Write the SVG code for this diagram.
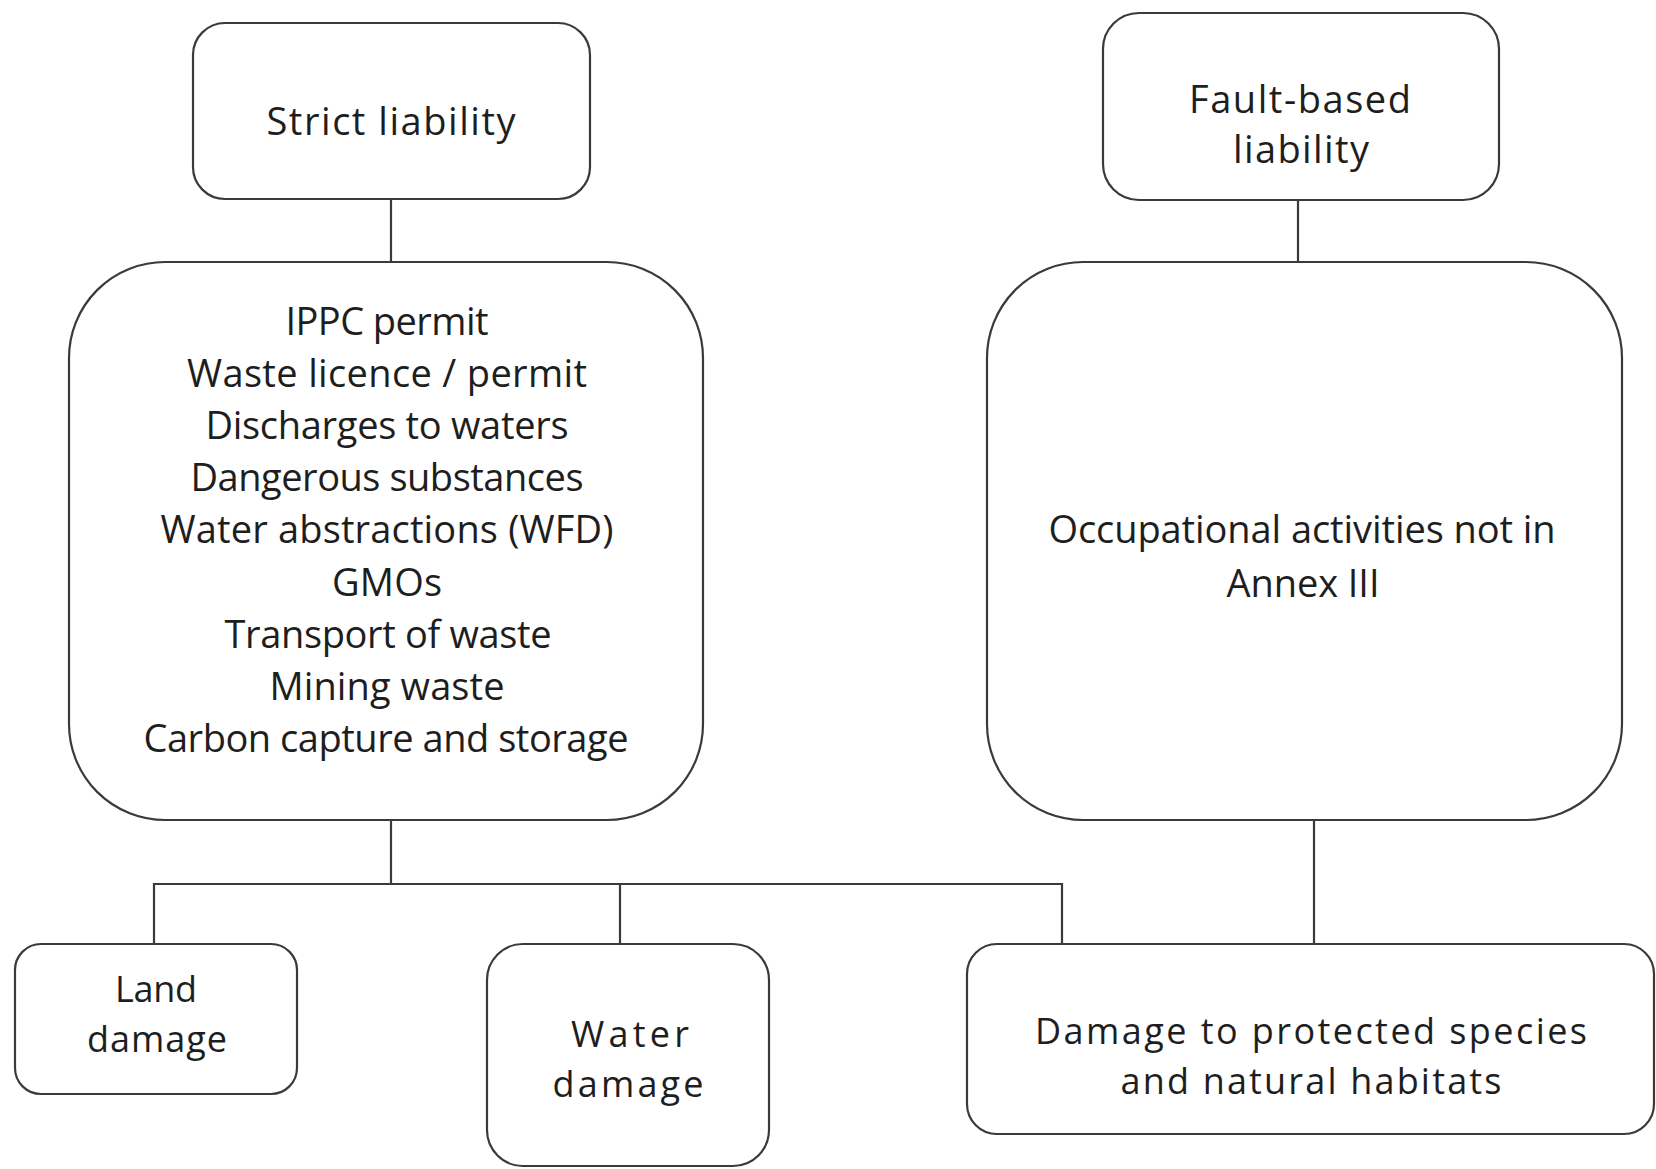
<svg xmlns="http://www.w3.org/2000/svg" width="1656" height="1169" viewBox="0 0 1656 1169">
  <style>
    .box { fill: #ffffff; stroke: #3a3a3a; stroke-width: 2.2; }
    .wire { fill: none; stroke: #3a3a3a; stroke-width: 2.2; }
    .lbl { font-family: "Open Sans", "Noto Sans", "Liberation Sans", sans-serif; font-size: 38px; fill: #1e1e1e; text-anchor: middle; }
    .tight { font-size: 36px; }
  </style>
  <rect width="1656" height="1169" fill="#ffffff"/>

  <!-- connectors -->
  <g id="connectors">
    <line class="wire" x1="391" y1="199" x2="391" y2="262"/>
    <line class="wire" x1="1298" y1="200" x2="1298" y2="262"/>
    <line class="wire" x1="391" y1="820" x2="391" y2="884"/>
    <polyline class="wire" points="154,944 154,884 1062,884 1062,944"/>
    <line class="wire" x1="620" y1="884" x2="620" y2="944"/>
    <line class="wire" x1="1314" y1="820" x2="1314" y2="944"/>
  </g>

  <g id="strict-liability">
    <rect class="box" x="193" y="23" width="397" height="176" rx="32" ry="32"/>
    <text class="lbl" x="391" y="135" textLength="249" lengthAdjust="spacing">Strict liability</text>
  </g>

  <g id="fault-based-liability">
    <rect class="box" x="1103" y="13" width="396" height="187" rx="36" ry="36"/>
    <text class="lbl" x="1300" y="113" textLength="222" lengthAdjust="spacing">Fault-based</text>
    <text class="lbl" x="1301" y="163" textLength="136" lengthAdjust="spacing">liability</text>
  </g>

  <g id="strict-activities">
    <rect class="box" x="69" y="262" width="634" height="558" rx="96" ry="96"/>
    <text class="lbl" x="387" y="335" textLength="203" lengthAdjust="spacing">IPPC permit</text>
    <text class="lbl" x="387" y="387" textLength="400" lengthAdjust="spacing">Waste licence / permit</text>
    <text class="lbl" x="387" y="439" textLength="363" lengthAdjust="spacing">Discharges to waters</text>
    <text class="lbl" x="387" y="491" textLength="393" lengthAdjust="spacing">Dangerous substances</text>
    <text class="lbl" x="387" y="543" textLength="453" lengthAdjust="spacing">Water abstractions (WFD)</text>
    <text class="lbl" x="387" y="596" textLength="110" lengthAdjust="spacing">GMOs</text>
    <text class="lbl" x="388" y="648" textLength="327" lengthAdjust="spacing">Transport of waste</text>
    <text class="lbl" x="387" y="700" textLength="235" lengthAdjust="spacing">Mining waste</text>
    <text class="lbl" x="386" y="752" textLength="485" lengthAdjust="spacing">Carbon capture and storage</text>
  </g>

  <g id="fault-activities">
    <rect class="box" x="987" y="262" width="635" height="558" rx="96" ry="96"/>
    <text class="lbl" x="1302" y="543" textLength="507" lengthAdjust="spacing">Occupational activities not in</text>
    <text class="lbl" x="1303" y="597" textLength="153" lengthAdjust="spacing">Annex III</text>
  </g>

  <g id="land-damage">
    <rect class="box" x="15" y="944" width="282" height="150" rx="26" ry="26"/>
    <text class="lbl tight" x="156" y="1002" textLength="82" lengthAdjust="spacing">Land</text>
    <text class="lbl tight" x="157" y="1052" textLength="140" lengthAdjust="spacing">damage</text>
  </g>

  <g id="water-damage">
    <rect class="box" x="487" y="944" width="282" height="222" rx="36" ry="36"/>
    <text class="lbl tight" x="630" y="1047" textLength="118" lengthAdjust="spacing">Water</text>
    <text class="lbl tight" x="628" y="1097" textLength="151" lengthAdjust="spacing">damage</text>
  </g>

  <g id="species-habitats-damage">
    <rect class="box" x="967" y="944" width="687" height="190" rx="30" ry="30"/>
    <text class="lbl tight" x="1311" y="1044" textLength="552" lengthAdjust="spacing">Damage to protected species</text>
    <text class="lbl tight" x="1311" y="1094" textLength="381" lengthAdjust="spacing">and natural habitats</text>
  </g>
</svg>
